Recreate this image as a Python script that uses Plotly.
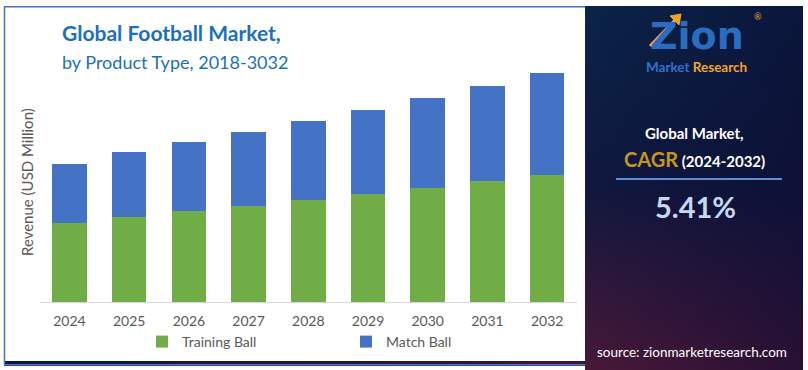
import base64
import plotly.graph_objects as go

# ---- data ----
years = ["2024", "2025", "2026", "2027", "2028", "2029", "2030", "2031", "2032"]
training_ball = [79, 85, 91, 96, 102, 108, 114, 121, 127]
match_ball = [59, 65, 69, 74, 79, 84, 90, 95, 102]

title_main = "Global Football Market,"
title_sub = "by Product Type, 2018-3032"
y_title = "Revenue (USD Million)"
cagr_value = "5.41%"

W, H = 808, 370
FONT = "Lato, 'Open Sans', sans-serif"


def px(x):
    return x / W


def py(y):
    return 1 - y / H


def svg_uri(svg):
    return "data:image/svg+xml;base64," + base64.b64encode(svg.encode()).decode()


panel_svg = (
    '<svg xmlns="http://www.w3.org/2000/svg" width="218" height="364" preserveAspectRatio="none">'
    '<defs>'
    '<linearGradient id="g" x1="0" y1="0" x2="0" y2="1">'
    '<stop offset="0" stop-color="#0a2448"/>'
    '<stop offset="0.5" stop-color="#10183f"/>'
    '<stop offset="1" stop-color="#4a1838"/>'
    '</linearGradient>'
    '<linearGradient id="h" x1="0" y1="0" x2="1" y2="0">'
    '<stop offset="0" stop-color="#0b0a30" stop-opacity="0"/>'
    '<stop offset="1" stop-color="#0b0a30" stop-opacity="0.55"/>'
    '</linearGradient>'
    '</defs>'
    '<rect width="218" height="364" fill="url(#g)"/>'
    '<rect width="218" height="364" fill="url(#h)"/>'
    '</svg>'
)

strip_svg = (
    '<svg xmlns="http://www.w3.org/2000/svg" width="600" height="6" preserveAspectRatio="none">'
    '<defs><linearGradient id="s" x1="0" y1="0" x2="1" y2="0">'
    '<stop offset="0" stop-color="#0a1a3a"/>'
    '<stop offset="1" stop-color="#3a1535"/>'
    '</linearGradient></defs>'
    '<rect width="600" height="6" fill="url(#s)"/>'
    '</svg>'
)

fig = go.Figure()
fig.add_trace(go.Bar(x=years, y=training_ball, name="Training Ball",
                     marker=dict(color="#70ad47", line=dict(width=0))))
fig.add_trace(go.Bar(x=years, y=match_ball, name="Match Ball",
                     marker=dict(color="#4472c4", line=dict(width=0))))

plot_bottom = 302
plot_top = 52

fig.update_layout(
    width=W, height=H,
    margin=dict(l=0, r=0, t=0, b=0),
    paper_bgcolor="white", plot_bgcolor="white",
    barmode="stack", bargap=0.42,
    font=dict(family=FONT, color="#595959"),
    xaxis=dict(domain=[px(39.6), px(577)], showgrid=False, showline=True,
               linecolor="#d9d9d9", linewidth=1, ticks="", ticklabelstandoff=6,
               tickfont=dict(size=14, color="#595959"), fixedrange=True),
    yaxis=dict(domain=[py(plot_bottom), py(plot_top)], range=[0, plot_bottom - plot_top],
               showgrid=False, showticklabels=False, zeroline=False, showline=False,
               fixedrange=True),
    legend=dict(orientation="h", x=px(142), y=py(326), xanchor="left", yanchor="top",
                entrywidth=159, entrywidthmode="pixels",
                font=dict(size=14, color="#595959"), bgcolor="rgba(0,0,0,0)",
                traceorder="normal"),
    showlegend=True,
    images=[
        dict(source=svg_uri(panel_svg), xref="paper", yref="paper",
             x=px(585), y=py(6), sizex=px(803) - px(585), sizey=364 / H,
             sizing="stretch", layer="below", xanchor="left", yanchor="top"),
        dict(source=svg_uri(strip_svg), xref="paper", yref="paper",
             x=px(4), y=py(361), sizex=px(585) - px(4), sizey=5 / H,
             sizing="stretch", layer="below", xanchor="left", yanchor="top"),
    ],
)

shapes = [
    # left and top borders
    dict(type="line", xref="paper", yref="paper", x0=px(4.5), x1=px(4.5), y0=py(6.5), y1=py(364),
         line=dict(color="#4472c4", width=1.5)),
    dict(type="line", xref="paper", yref="paper", x0=px(4), x1=px(585), y0=py(6.8), y1=py(6.8),
         line=dict(color="#4472c4", width=1.5)),
    # bottom blue line
    dict(type="line", xref="paper", yref="paper", x0=px(4), x1=px(585), y0=py(364.8), y1=py(364.8),
         line=dict(color="#4a7bd0", width=1.5)),
    # separator line in panel
    dict(type="line", xref="paper", yref="paper", x0=px(616), x1=px(782), y0=py(179), y1=py(179),
         line=dict(color="#5b8fd0", width=2)),
    # logo arrow
    dict(type="path", xref="paper", yref="paper",
         path=f"M {px(650)},{py(46)} L {px(676)},{py(19)}",
         line=dict(color="#f0a12a", width=3)),
    dict(type="path", xref="paper", yref="paper",
         path=f"M {px(670)},{py(16)} L {px(681)},{py(14)} L {px(679)},{py(25)} Z",
         fillcolor="#f0a12a", line=dict(color="#f0a12a", width=1)),
]
fig.update_layout(shapes=shapes)

ann = [
    dict(text=f"<b>{title_main}</b>", x=px(60), y=py(33), xanchor="left", yanchor="middle",
         font=dict(size=21, color="#1a6fc0", family=FONT)),
    dict(text=title_sub, x=px(60), y=py(62), xanchor="left", yanchor="middle",
         font=dict(size=18, color="#1a6fc0", family=FONT)),
    dict(text=y_title, x=px(27), y=py(182), xanchor="center", yanchor="middle", textangle=-90,
         font=dict(size=15, color="#595959", family=FONT)),
    # logo
    dict(text="<b>Zion</b>", x=px(697), y=py(35.5), xanchor="center", yanchor="middle",
         font=dict(size=38, color="#2a6cc0", family="'DejaVu Sans', sans-serif")),
    dict(text="®", x=px(758), y=py(16), xanchor="center", yanchor="middle",
         font=dict(size=9, color="#f0a12a", family=FONT)),
    dict(text="<b><span style='color:#2f74cc'>Market</span> <span style='color:#f5a623'>Research</span></b>",
         x=px(696), y=py(67), xanchor="center", yanchor="middle",
         font=dict(size=13.5, family=FONT)),
    # CAGR block
    dict(text="<b>Global Market,</b>", x=px(694), y=py(133), xanchor="center", yanchor="middle",
         font=dict(size=15, color="white", family=FONT)),
    dict(text="<b><span style='color:#c8961a;font-size:20px'>CAGR</span> (2024-2032)</b>",
         x=px(694), y=py(159), xanchor="center", yanchor="middle",
         font=dict(size=15, color="white", family=FONT)),
    dict(text=f"<b>{cagr_value}</b>", x=px(695), y=py(206), xanchor="center", yanchor="middle",
         font=dict(size=29, color="#c5d9f1", family=FONT)),
    dict(text="source: zionmarketresearch.com", x=px(692), y=py(352), xanchor="center",
         yanchor="middle", font=dict(size=13.5, color="white", family=FONT)),
]
for a in ann:
    a.update(xref="paper", yref="paper", showarrow=False)
fig.update_layout(annotations=ann)

fig.write_html("out.html", config={"displayModeBar": False},
               post_script="document.body.style.margin='0';")
